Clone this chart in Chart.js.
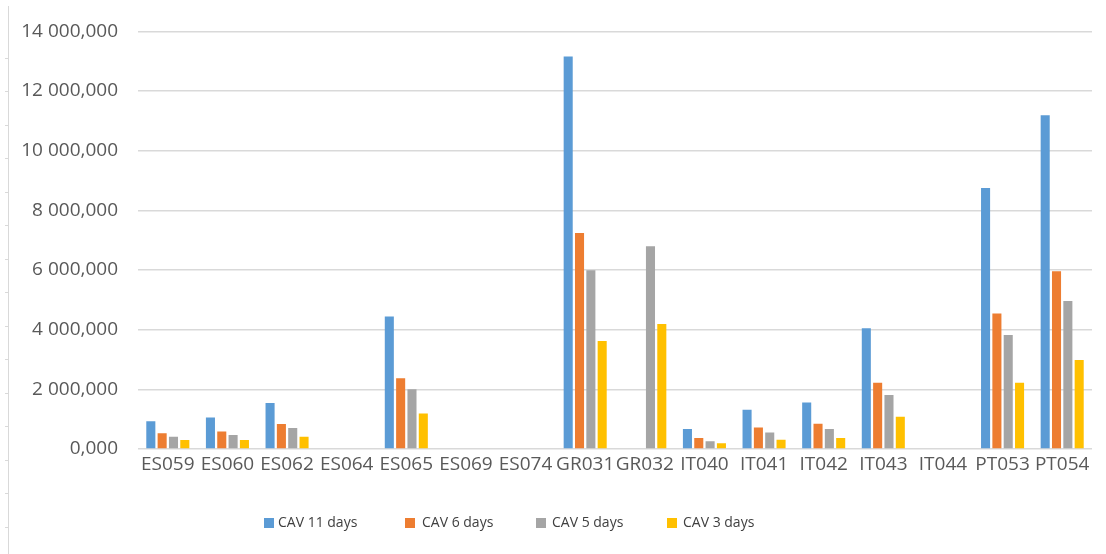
<!DOCTYPE html>
<html>
<head>
<meta charset="utf-8">
<script src="https://cdn.jsdelivr.net/npm/chart.js@4.4.1/dist/chart.umd.min.js"></script>
<style>
  html, body { margin: 0; padding: 0; background: #ffffff; }
  #wrap { width: 1106px; height: 554px; position: relative; }
</style>
</head>
<body>
<div id="wrap"><canvas id="c" width="1106" height="554"></canvas></div>
<script>
const categories = ['ES059','ES060','ES062','ES064','ES065','ES069','ES074','GR031','GR032','IT040','IT041','IT042','IT043','IT044','PT053','PT054'];
const seriesNames = ['CAV 11 days','CAV 6 days','CAV 5 days','CAV 3 days'];
const cav11 = [930, 1060, 1540, null, 4440, null, null, 13160, null, 670, 1320, 1560, 4050, null, 8750, 11190];
const cav6  = [530, 590, 840, null, 2370, null, null, 7240, null, 370, 720, 850, 2220, null, 4540, 5960];
const cav5  = [410, 470, 700, null, 2000, null, null, 5990, 6800, 260, 550, 670, 1810, null, 3820, 4960];
const cav3  = [300, 300, 410, null, 1190, null, null, 3620, 4190, 190, 310, 370, 1080, null, 2220, 2980];
const yMin = 0, yMax = 14000, yStep = 2000;
const colors = ['#5B9BD5','#ED7D31','#A5A5A5','#FFC000'];

function fmt(v) {
  const parts = Number(v).toFixed(3).split('.');
  const intPart = parts[0].replace(/\B(?=(\d{3})+(?!\d))/g, ' ');
  return intPart + ',' + parts[1];
}

const seriesData = [cav11, cav6, cav5, cav3];

const customLegend = {
  id: 'customLegend',
  afterDraw(chart) {
    const ctx = chart.ctx;
    ctx.save();
    ctx.font = '14px "Open Sans"';
    ctx.textBaseline = 'middle';
    ctx.textAlign = 'left';
    const y = 523;
    const starts = [264, 405, 536, 667];
    const textGap = [14, 17, 16, 16];
    chart.data.datasets.forEach((ds, i) => {
      const x = starts[i];
      ctx.fillStyle = ds.backgroundColor;
      ctx.fillRect(x, y - 5, 10, 10);
      ctx.fillStyle = '#404040';
      ctx.fillText(ds.label, x + textGap[i], y);
    });
    ctx.restore();
  }
};

const frameDeco = {
  id: 'frameDeco',
  beforeDraw(chart) {
    const ctx = chart.ctx;
    ctx.save();
    ctx.strokeStyle = '#D9D9D9';
    ctx.lineWidth = 1;
    ctx.beginPath();
    ctx.moveTo(8.5, 6);
    ctx.lineTo(8.5, 554);
    for (let ty = 57.5; ty < 554; ty += 33.5) {
      ctx.moveTo(5, Math.round(ty) + 0.5);
      ctx.lineTo(8.5, Math.round(ty) + 0.5);
    }
    ctx.stroke();
    ctx.restore();
  }
};

new Chart(document.getElementById('c'), {
  type: 'bar',
  data: {
    labels: categories,
    datasets: seriesNames.map((name, i) => ({
      label: name,
      data: seriesData[i],
      backgroundColor: colors[i],
      borderWidth: 0,
      categoryPercentage: 0.76,
      barPercentage: 0.8
    }))
  },
  options: {
    responsive: false,
    animation: false,
    devicePixelRatio: 1,
    layout: { padding: { top: 31, right: 14, bottom: 80, left: 0 } },
    plugins: {
      legend: { display: false },
      tooltip: { enabled: false }
    },
    scales: {
      x: {
        grid: { display: false, drawTicks: false },
        border: { display: false },
        ticks: {
          color: '#595959',
          font: { family: '"Open Sans"', size: 19 },
          padding: 4,
          maxRotation: 0,
          autoSkip: false
        },
        afterFit(scale) { scale.height = 25; }
      },
      y: {
        min: yMin,
        max: yMax,
        border: { display: false },
        grid: { color: '#D9D9D9', lineWidth: 1.5, drawTicks: false },
        ticks: {
          stepSize: yStep,
          color: '#595959',
          font: { family: '"Open Sans"', size: 19 },
          padding: 20,
          callback: (v) => fmt(v)
        },
        afterFit(scale) { scale.width = 138; }
      }
    }
  },
  plugins: [frameDeco, customLegend]
});
</script>
</body>
</html>
